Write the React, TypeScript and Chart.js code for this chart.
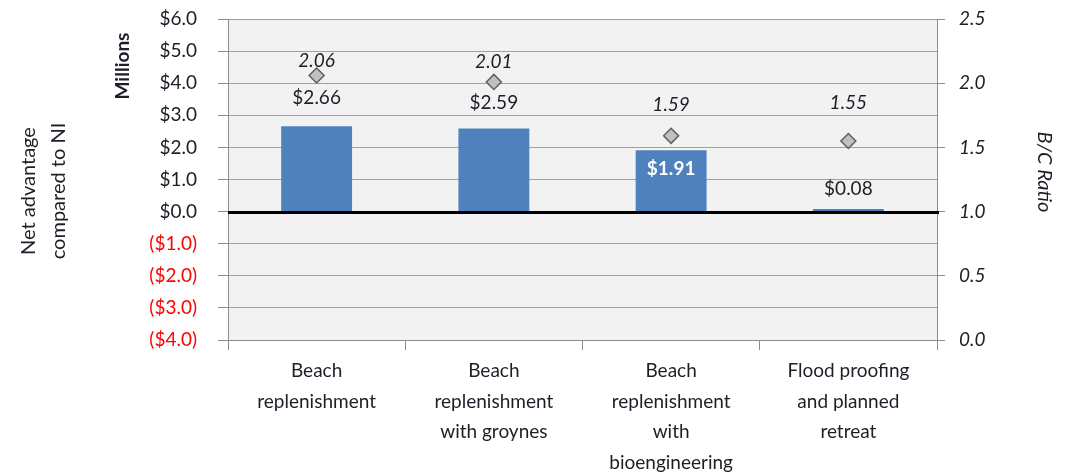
import React, { useEffect, useRef } from 'react';
import { Chart, registerables } from 'chart.js';

Chart.register(...registerables);

// ---- Data ----
const categories: string[][] = [
  ['Beach', 'replenishment'],
  ['Beach', 'replenishment', 'with groynes'],
  ['Beach', 'replenishment', 'with', 'bioengineering'],
  ['Flood proofing', 'and planned', 'retreat'],
];
const netAdvantage: number[] = [2.66, 2.59, 1.91, 0.08]; // $ millions
const bcRatio: number[] = [2.06, 2.01, 1.59, 1.55];

const leftMin = -4;
const leftMax = 6;
const leftStep = 1;
const rightMin = 0;
const rightMax = 2.5;
const rightStep = 0.5;

// ---- Style ----
const FONT = 'Lato, "Open Sans", sans-serif';
const FS = 19;
const TEXT = '#1e1e28';
const BAR_COLOR = '#4f81bd';
const GRID = '#a0a0a0';
const AXIS = '#8c8c8c';
const PLOT_BG = '#f2f2f2';
const BAR_LABEL_INSIDE = [false, false, true, false];
const BAR_LABEL_GAP = [28, 26, 0, 20];
const RATIO_LABEL_GAP = [15, 20, 31, 38];

const fmtMoney = (v: number) =>
  v < 0 ? `($${Math.abs(v).toFixed(1)})` : `$${v.toFixed(1)}`;

const bgPlugin = {
  id: 'plotBg',
  beforeDraw(chart: any) {
    const { ctx, chartArea } = chart;
    ctx.save();
    ctx.fillStyle = '#ffffff';
    ctx.fillRect(0, 0, chart.width, chart.height);
    ctx.fillStyle = PLOT_BG;
    ctx.fillRect(chartArea.left, chartArea.top, chartArea.right - chartArea.left, chartArea.bottom - chartArea.top);
    ctx.restore();
  },
};

const labelPlugin = {
  id: 'valueLabels',
  afterDatasetsDraw(chart: any) {
    const ctx = chart.ctx;
    const barMeta = chart.getDatasetMeta(0);
    const ptMeta = chart.getDatasetMeta(1);
    const yScale = chart.scales.y;
    const zeroY = yScale.getPixelForValue(0);
    // zero line
    ctx.save();
    ctx.strokeStyle = '#000000';
    ctx.lineWidth = 3;
    ctx.beginPath();
    ctx.moveTo(chart.chartArea.left, zeroY + 1);
    ctx.lineTo(chart.chartArea.right + 2, zeroY + 1);
    ctx.stroke();

    ctx.textAlign = 'center';
    ctx.textBaseline = 'middle';
    barMeta.data.forEach((bar: any, i: number) => {
      const txt = '$' + netAdvantage[i].toFixed(2);
      if (BAR_LABEL_INSIDE[i]) {
        ctx.font = `bold ${FS}px ${FONT}`;
        ctx.fillStyle = '#ffffff';
        ctx.fillText(txt, bar.x, bar.y + 19);
      } else {
        ctx.font = `${FS}px ${FONT}`;
        ctx.fillStyle = TEXT;
        ctx.fillText(txt, bar.x, bar.y - BAR_LABEL_GAP[i]);
      }
    });
    ptMeta.data.forEach((pt: any, i: number) => {
      ctx.font = `italic ${FS}px ${FONT}`;
      ctx.fillStyle = TEXT;
      ctx.fillText(bcRatio[i].toFixed(2), pt.x, pt.y - RATIO_LABEL_GAP[i]);
    });
    ctx.restore();
  },
  afterDraw(chart: any) {
    const ctx = chart.ctx;
    ctx.save();
    ctx.fillStyle = TEXT;
    ctx.textAlign = 'center';
    ctx.textBaseline = 'middle';
    // Millions
    ctx.save();
    ctx.translate(123, 66);
    ctx.rotate(-Math.PI / 2);
    ctx.font = `bold ${FS}px ${FONT}`;
    ctx.fillText('Millions', 0, 0);
    ctx.restore();
    // Net advantage
    ctx.save();
    ctx.translate(29, 191);
    ctx.rotate(-Math.PI / 2);
    ctx.font = `${FS + 1}px ${FONT}`;
    ctx.fillText('Net advantage', 0, 0);
    ctx.restore();
    ctx.save();
    ctx.translate(59, 191);
    ctx.rotate(-Math.PI / 2);
    ctx.font = `${FS + 1}px ${FONT}`;
    ctx.fillText('compared to NI', 0, 0);
    ctx.restore();
    // B/C Ratio
    ctx.save();
    ctx.translate(1044, 172);
    ctx.rotate(Math.PI / 2);
    ctx.font = `italic ${FS + 1}px ${FONT}`;
    ctx.fillText('B/C Ratio', 0, 0);
    ctx.restore();
    ctx.restore();
  },
};

export default function App() {
  const ref = useRef<HTMLCanvasElement | null>(null);

  useEffect(() => {
    if (!ref.current) return;
    const chart = new Chart(ref.current, {
      type: 'bar',
      data: {
        labels: categories as any,
        datasets: [
          {
            type: 'bar',
            label: 'Net advantage',
            data: netAdvantage,
            backgroundColor: BAR_COLOR,
            borderWidth: 0,
            categoryPercentage: 1,
            barPercentage: 0.4,
            yAxisID: 'y',
            order: 2,
          },
          {
            type: 'line',
            label: 'B/C Ratio',
            data: bcRatio,
            showLine: false,
            pointStyle: 'rectRot',
            pointRadius: 7.5,
            pointBackgroundColor: '#c0c0c0',
            pointBorderColor: '#5f5f5f',
            pointBorderWidth: 1.5,
            yAxisID: 'y2',
            order: 1,
          } as any,
        ],
      },
      options: {
        responsive: false,
        animation: false,
        devicePixelRatio: 1,
        layout: { padding: { top: 19, left: 0, right: 0, bottom: 0 } },
        plugins: {
          legend: { display: false },
          tooltip: { enabled: false },
        },
        scales: {
          x: {
            type: 'category',
            offset: true,
            grid: {
              offset: true,
              drawOnChartArea: false,
              drawTicks: true,
              tickLength: 10,
              tickColor: AXIS,
            },
            border: { color: AXIS, width: 1 },
            ticks: {
              maxRotation: 0,
              minRotation: 0,
              autoSkip: false,
              padding: 6,
              color: TEXT,
              font: { family: FONT, size: FS, lineHeight: 1.6 },
            },
            afterFit(scale: any) {
              scale.height = 136;
              scale.paddingLeft = 0;
              scale.paddingRight = 0;
              scale.paddingTop = 0;
              scale.paddingBottom = 0;
            },
          },
          y: {
            type: 'linear',
            position: 'left',
            min: leftMin,
            max: leftMax,
            ticks: {
              stepSize: leftStep,
              padding: 21,
              color: (c: any) => (c.tick && c.tick.value < 0 ? '#ff0000' : TEXT),
              font: { family: FONT, size: FS },
              callback: (v: any) => fmtMoney(Number(v)),
            },
            grid: {
              color: GRID,
              lineWidth: 1,
              tickLength: 10,
              tickColor: AXIS,
            },
            border: { color: AXIS, width: 1 },
            afterFit(scale: any) {
              scale.width = 228;
              scale.paddingTop = 0;
              scale.paddingBottom = 0;
              scale.paddingLeft = 0;
              scale.paddingRight = 0;
            },
          },
          y2: {
            type: 'linear',
            position: 'right',
            min: rightMin,
            max: rightMax,
            ticks: {
              stepSize: rightStep,
              padding: 14,
              color: TEXT,
              font: { family: FONT, size: FS, style: 'italic' },
              callback: (v: any) => Number(v).toFixed(1),
            },
            grid: {
              drawOnChartArea: false,
              tickLength: 8,
              tickColor: AXIS,
            },
            border: { color: AXIS, width: 1 },
            afterFit(scale: any) {
              scale.width = 128;
              scale.paddingTop = 0;
              scale.paddingBottom = 0;
              scale.paddingLeft = 0;
              scale.paddingRight = 0;
            },
          },
        },
      },
      plugins: [bgPlugin, labelPlugin],
    });
    return () => chart.destroy();
  }, []);

  return (
    <div style={{ position: 'fixed', left: 0, top: 0, width: 1065, height: 476, background: '#fff' }}>
      <canvas ref={ref} width={1065} height={476} style={{ display: 'block', width: 1065, height: 476 }} />
    </div>
  );
}
